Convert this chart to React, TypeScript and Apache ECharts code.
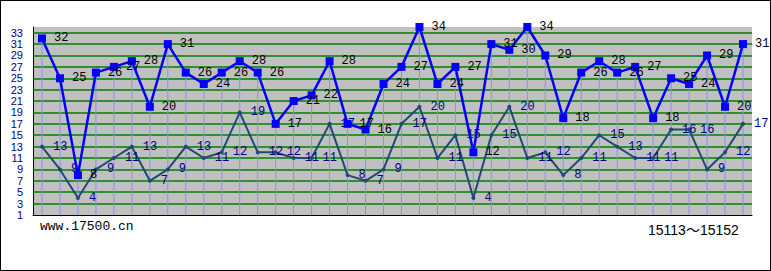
import React, { useEffect, useRef } from "react";
import * as echarts from "echarts";

const periods: string[] = Array.from({ length: 40 }, (_, i) => String(15113 + i));
const blueValues: number[] = [32, 25, 8, 26, 27, 28, 20, 31, 26, 24, 26, 28, 26, 17, 21, 22, 28, 17, 16, 24, 27, 34, 24, 27, 12, 31, 30, 34, 29, 18, 26, 28, 26, 27, 18, 25, 24, 29, 20, 31];
const darkValues: number[] = [13, 9, 4, 9, 11, 13, 7, 9, 13, 11, 12, 19, 12, 12, 11, 11, 17, 8, 7, 9, 17, 20, 11, 15, 4, 15, 20, 11, 12, 8, 11, 15, 13, 11, 11, 16, 16, 9, 12, 17];
const yTickValues: number[] = [1, 3, 5, 7, 9, 11, 13, 15, 17, 19, 21, 23, 25, 27, 29, 31, 33];
const gridLineValues: number[] = [3, 5, 7, 9, 11, 13, 15, 17, 19, 21, 23, 25, 27, 29, 31, 33];
const siteText = "www.17500.cn";
const rangeText = "15113～15152";

export default function App() {
  const ref = useRef<HTMLDivElement>(null);
  useEffect(() => {
    document.body.style.margin = "0";
    const chart = echarts.init(ref.current!, undefined, { renderer: "svg" });
    const labelFont = "'Liberation Mono', 'DejaVu Sans Mono', monospace";
    chart.setOption({
      animation: false,
      backgroundColor: "#ffffff",
      grid: {
        left: 33,
        right: 19,
        top: 27,
        bottom: 56,
        show: true,
        backgroundColor: "#C0C0C0",
        borderWidth: 0,
      },
      xAxis: {
        type: "category",
        data: periods,
        boundaryGap: true,
        axisLine: { show: true, lineStyle: { color: "#000000", width: 1 } },
        axisTick: { show: false },
        axisLabel: { show: false },
        splitLine: { show: false },
      },
      yAxis: {
        type: "value",
        min: 1,
        max: 34,
        interval: 1,
        axisLine: { show: true, lineStyle: { color: "#000000", width: 1 } },
        axisTick: { show: false },
        axisLabel: {
          color: "#000080",
          fontFamily: "'Liberation Sans', Arial, sans-serif",
          fontSize: 11,
          margin: 10,
          formatter: (v: number) => (yTickValues.includes(v) ? String(v) : ""),
        },
        splitLine: { show: false },
      },
      graphic: [
        {
          type: "text",
          left: 40,
          top: 220,
          style: {
            text: siteText,
            fill: "#000000",
            font: "13px 'Liberation Mono', 'DejaVu Sans Mono', monospace",
          },
        },
        {
          type: "text",
          left: 648,
          top: 223,
          style: {
            text: rangeText,
            fill: "#000000",
            font: "14px 'Liberation Sans', Arial, 'Noto Sans CJK SC', sans-serif",
          },
        },
      ],
      series: [
        {
          type: "bar",
          data: blueValues,
          barWidth: 1,
          itemStyle: { color: "#8C8CFF" },
          silent: true,
          z: 2,
          markLine: {
            silent: true,
            symbol: "none",
            label: { show: false },
            lineStyle: { color: "#008000", width: 1.5, type: "solid", opacity: 1 },
            emphasis: { disabled: true },
            data: gridLineValues.map((v) => ({ yAxis: v })),
            z: 1,
          },
        },
        {
          type: "line",
          data: darkValues,
          z: 3,
          lineStyle: { color: "#1F4A72", width: 2 },
          itemStyle: { color: "#1F4A72" },
          symbol: "circle",
          symbolSize: 4,
          label: {
            show: true,
            position: "right",
            distance: 9,
            color: "#000080",
            fontFamily: labelFont,
            fontSize: 12,
          },
        },
        {
          type: "line",
          data: blueValues,
          z: 4,
          lineStyle: { color: "#0000FF", width: 2.5 },
          itemStyle: { color: "#0000FF" },
          symbol: "rect",
          symbolSize: 8,
          label: {
            show: true,
            position: "right",
            distance: 8,
            color: "#000000",
            fontFamily: labelFont,
            fontSize: 12,
          },
        },
      ],
    });
    return () => chart.dispose();
  }, []);
  return (
    <div style={{ position: "relative", width: 771, height: 271 }}>
      <div ref={ref} style={{ width: 771, height: 271 }} />
      <div
        style={{
          position: "absolute",
          left: 0,
          top: 0,
          width: 771,
          height: 271,
          border: "1px solid #000",
          boxSizing: "border-box",
          pointerEvents: "none",
        }}
      />
    </div>
  );
}
